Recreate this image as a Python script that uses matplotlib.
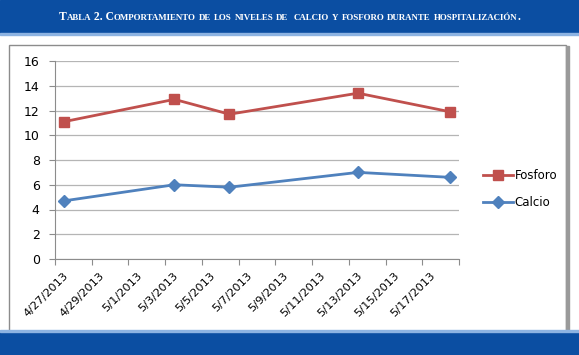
import matplotlib
matplotlib.use("Agg")
import matplotlib.pyplot as plt
import matplotlib.dates as mdates
import matplotlib.transforms as mtransforms
from matplotlib.patches import Rectangle
from matplotlib.ticker import FixedLocator, FuncFormatter
import pandas as pd

# Chart data
dates = ["2013-04-27", "2013-05-03", "2013-05-06", "2013-05-13", "2013-05-18"]
fosforo = [11.1, 12.9, 11.7, 13.4, 11.9]
calcio = [4.7, 6.0, 5.8, 7.0, 6.6]
axis_start, axis_end = "2013-04-27", "2013-05-19"
y_ticks = [0, 2, 4, 6, 8, 10, 12, 14, 16]
title = "Tabla 2. Comportamiento de los niveles de  calcio y fosforo durante hospitalización."

BAND = "#0B4EA2"
RED = "#C0504D"
BLUE = "#4F81BD"

fig = plt.figure(figsize=(5.79, 3.55), dpi=100)
W, H = 579, 355

def px(x, y, w, h):
    # pixel box (top-left origin) -> figure fraction
    return (x / W, 1 - (y + h) / H, w / W, h / H)

# header and footer bands
x0, y0, w0, h0 = px(0, 0, 579, 33)
fig.patches.append(Rectangle((x0, y0), w0, h0, transform=fig.transFigure, color=BAND, zorder=0))
x0, y0, w0, h0 = px(0, 33, 579, 2)
fig.patches.append(Rectangle((x0, y0), w0, h0, transform=fig.transFigure, color="#8DB3E2", zorder=0))
x0, y0, w0, h0 = px(0, 331, 579, 24)
fig.patches.append(Rectangle((x0, y0), w0, h0, transform=fig.transFigure, color=BAND, zorder=3))
x0, y0, w0, h0 = px(0, 330, 579, 1.5)
fig.patches.append(Rectangle((x0, y0), w0, h0, transform=fig.transFigure, color="#8DB3E2", zorder=3))

# chart frame with a bit of shadow on the right
x0, y0, w0, h0 = px(9, 45, 557, 290)
fig.patches.append(Rectangle((x0, y0), w0, h0, transform=fig.transFigure, fill=False,
                             edgecolor="#8C8C8C", linewidth=1.0, zorder=1))
x0, y0, w0, h0 = px(566, 46, 2.5, 290)
fig.patches.append(Rectangle((x0, y0), w0, h0, transform=fig.transFigure, color="#9A9A9A", zorder=1))

# small caps title, drawn run by run
renderer = fig.canvas.get_renderer()
runs = []
for ch in title:
    small = ch.islower()
    if runs and runs[-1][1] == small:
        runs[-1][0] += ch
    else:
        runs.append([ch, small])
texts = []
cursor = 0.0
for seg, small in runs:
    t = fig.text(0, 0, seg.upper(), color="white", family="Liberation Serif", weight="bold",
                 fontsize=6.4 if small else 8.4, va="baseline", ha="left")
    texts.append(t)
    cursor += t.get_window_extent(renderer).width
start = (W - cursor) / 2
for t in texts:
    t.set_x(start / W)
    start += t.get_window_extent(renderer).width
    t.set_y(1 - 20 / H)

# plot area
ax = fig.add_axes([55 / W, 1 - 259 / H, 404 / W, 198 / H])
x = [mdates.date2num(pd.Timestamp(d)) + 0.5 for d in dates]
ax.plot(x, fosforo, color=RED, linewidth=2, marker="s", markersize=7.5, label="Fosforo", zorder=3)
ax.plot(x, calcio, color=BLUE, linewidth=2, marker="D", markersize=6, label="Calcio", zorder=3)

lo = mdates.date2num(pd.Timestamp(axis_start))
hi = mdates.date2num(pd.Timestamp(axis_end))
ax.set_xlim(lo, hi)
ax.set_ylim(0, 16)
ticks = list(range(int(lo), int(hi) + 1, 2))
ax.xaxis.set_major_locator(FixedLocator(ticks))

def fmt(v, pos):
    if v >= hi:
        return ""
    d = mdates.num2date(v)
    return f"{d.month}/{d.day}/{d.year}"

ax.xaxis.set_major_formatter(FuncFormatter(fmt))
ax.set_yticks(y_ticks)
ax.grid(axis="y", color="#B5B5B5", linewidth=0.9)
ax.set_axisbelow(True)
for s in ["top", "right"]:
    ax.spines[s].set_visible(False)
for s in ["left", "bottom"]:
    ax.spines[s].set_color("#8C8C8C")
ax.tick_params(axis="both", colors="#8C8C8C", labelcolor="black", labelsize=9, length=4)
ax.tick_params(axis="y", pad=7)
ax.tick_params(axis="x", pad=4)
# Excel centres the rotated label under the tick, so nudge them right
shift = mtransforms.ScaledTranslation(8 / 100, 0, fig.dpi_scale_trans)
for lab in ax.get_xticklabels():
    lab.set_rotation(45)
    lab.set_ha("right")
    lab.set_rotation_mode("anchor")
    lab.set_fontsize(8.2)
    lab.set_transform(lab.get_transform() + shift)

fig.legend(loc="center left", bbox_to_anchor=(472 / W, 1 - 189 / H), frameon=False,
           fontsize=8.5, handlelength=2.6, handletextpad=0.1, labelspacing=1.2)

fig.savefig("out.png", dpi=100)
